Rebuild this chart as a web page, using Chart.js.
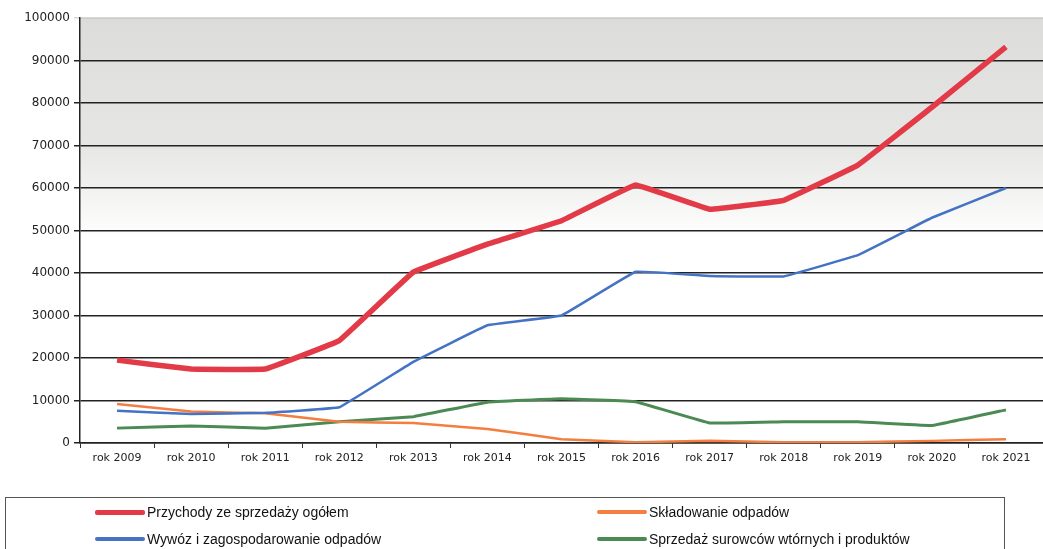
<!DOCTYPE html>
<html lang="pl">
<head>
<meta charset="utf-8">
<title>Przychody ze sprzedaży 2009-2021</title>
<script src="https://cdn.jsdelivr.net/npm/chart.js@4.4.0/dist/chart.umd.min.js"></script>
<style>
  html,body{margin:0;padding:0;background:#fff;}
  #wrap{position:relative;width:1043px;height:549px;overflow:hidden;}
  #legend{
    position:absolute;left:5px;top:497px;width:1000px;height:70px;
    border:1px solid #555;box-sizing:border-box;
    font-family:"Liberation Sans Narrow","Liberation Sans",Arial,sans-serif;
    font-size:14px;color:#111;
  }
  .item{position:absolute;display:flex;align-items:center;white-space:nowrap;}
  .item span.sw{display:inline-block;width:50px;margin-right:2px;border-radius:2px;}
</style>
</head>
<body>
<div id="wrap">
  <canvas id="chart" width="1043" height="549"></canvas>
  <div id="legend"></div>
</div>
<script>
// dane
const years = ['rok 2009','rok 2010','rok 2011','rok 2012','rok 2013','rok 2014','rok 2015',
               'rok 2016','rok 2017','rok 2018','rok 2019','rok 2020','rok 2021'];
const przychody  = [19500,17400,17400,24100,40200,46800,52300,60700,55000,57100,65400,79000,93200];
const wywoz      = [ 7600, 6800, 7100, 8400,19100,27700,30000,40300,39300,39200,44200,53000,60000];
const skladowanie= [ 9200, 7400, 7000, 5000, 4700, 3300,  900,  200,  500,  200,  200,  500,  900];
const sprzedaz   = [ 3500, 4000, 3500, 5000, 6200, 9600,10400, 9700, 4700, 5000, 5000, 4100, 7800];
const yTicks = [0,10000,20000,30000,40000,50000,60000,70000,80000,90000,100000];

const series = [
  {label:'Przychody ze sprzedaży ogółem', data:przychody, color:'#e23a46', width:5.5},
  {label:'Wywóz i zagospodarowanie odpadów', data:wywoz, color:'#4472c4', width:2.5},
  {label:'Składowanie odpadów', data:skladowanie, color:'#f47d40', width:2.5},
  {label:'Sprzedaż surowców wtórnych i produktów', data:sprzedaz, color:'#4b8a52', width:3}
];

// gradient tła obszaru wykresu
const bgPlugin = {
  id:'bg',
  beforeDraw(chart){
    const {ctx, chartArea:a} = chart;
    const g = ctx.createLinearGradient(0, a.top, 0, a.bottom);
    g.addColorStop(0, '#dcdcda');
    g.addColorStop(0.3, '#e6e6e4');
    g.addColorStop(0.52, '#ffffff');
    g.addColorStop(1, '#ffffff');
    ctx.save();
    ctx.fillStyle = g;
    ctx.fillRect(a.left, a.top, a.right - a.left, a.bottom - a.top);
    ctx.restore();
  }
};

new Chart(document.getElementById('chart'), {
  type:'line',
  data:{
    labels:years,
    datasets:series.map(s => ({
      label:s.label, data:s.data, borderColor:s.color, backgroundColor:s.color,
      borderWidth:s.width, pointRadius:0, tension:0.05, fill:false
    }))
  },
  options:{
    responsive:false,
    animation:false,
    layout:{padding:{top:18,bottom:76,left:0,right:0}},
    plugins:{legend:{display:false}, tooltip:{enabled:false}},
    scales:{
      x:{
        offset:true,
        grid:{offset:true, drawOnChartArea:false, color:'#333', tickLength:5},
        border:{color:'#222', width:1.5},
        ticks:{color:'#222', font:{family:'DejaVu Sans', size:11}, padding:4, maxRotation:0},
        afterFit(s){ s.height = 30; }
      },
      y:{
        min:0, max:100000,
        afterBuildTicks(s){ s.ticks = yTicks.map(v => ({value:v})); },
        grid:{
          color:c => c.tick && c.tick.value === 100000 ? 'rgba(0,0,0,0.15)' : '#222',
          lineWidth:1.5, tickLength:6
        },
        border:{color:'#222', width:1.5},
        ticks:{color:'#222', font:{family:'DejaVu Sans', size:12}, padding:4, callback:v => String(v)},
        afterFit(s){ s.width = 80; }
      }
    }
  },
  plugins:[bgPlugin]
});

// legenda w ramce pod wykresem
const legend = document.getElementById('legend');
const pos = [[89,6],[89,33],[591,6],[591,33]];
series.forEach((s,i) => {
  const d = document.createElement('div');
  d.className = 'item';
  d.style.left = pos[i][0] + 'px';
  d.style.top = pos[i][1] + 'px';
  d.innerHTML = '<span class="sw" style="height:' + (i === 0 ? 5 : 4) + 'px;background:' + s.color + '"></span>' + s.label;
  legend.appendChild(d);
});
</script>
</body>
</html>
